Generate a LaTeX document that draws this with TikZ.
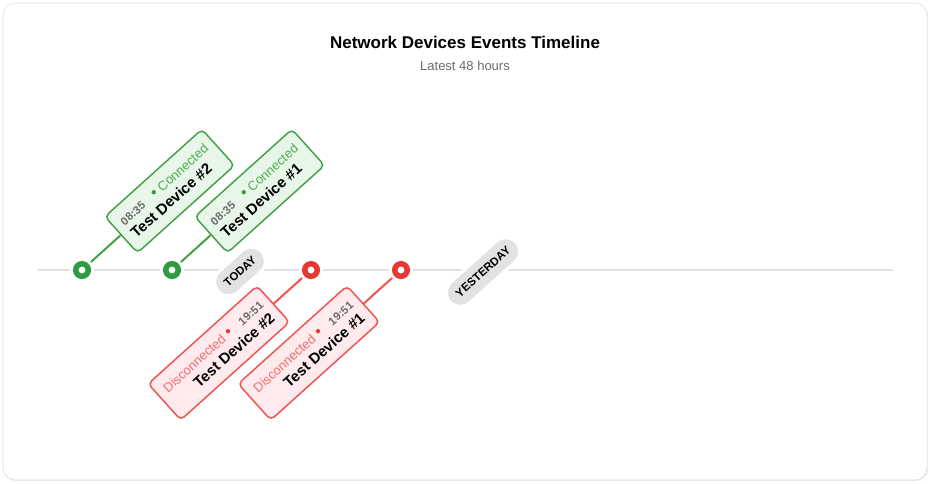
\documentclass[tikz,border=0pt]{standalone}
\usepackage{fontspec}
\setmainfont{Liberation Sans}
\usepackage{tikz}
\usetikzlibrary{positioning}
\definecolor{markgreen}{HTML}{2E9B41}
\definecolor{cardgreen}{HTML}{43A047}
\definecolor{fillgreen}{HTML}{E8F5E9}
\definecolor{textgreen}{HTML}{4CAF50}
\definecolor{markred}{HTML}{E53935}
\definecolor{cardred}{HTML}{EF5350}
\definecolor{fillred}{HTML}{FFEBEE}
\definecolor{textred}{HTML}{F26B6B}
\definecolor{axisgray}{HTML}{E0E0E0}
\definecolor{pillgray}{HTML}{E2E2E2}
\definecolor{timegray}{HTML}{6B6B6B}
\definecolor{framegray}{HTML}{DCDCDC}
\tikzset{
  axis/.style={draw=axisgray, line width=1.5pt},
  evtdot/.style={circle, fill=white, draw=#1, line width=4.125pt, minimum size=9.375pt, inner sep=0pt, outer sep=4.3125pt,
    preaction={draw=white, line width=8.625pt}},
  card/.style={rectangle, rounded corners=3.5pt, line width=1.1pt, inner xsep=6.4pt, inner ysep=2pt, minimum height=36.5pt, rotate=42},
  gcard/.style={card, draw=cardgreen, fill=fillgreen, align=left},
  rcard/.style={card, draw=cardred, fill=fillred, align=right},
  day/.style={rectangle, rounded corners=10.5pt, fill=pillgray, draw=white, line width=2.25pt, minimum height=21pt, inner xsep=7.5pt, rotate=42, font=\bfseries\fontsize{8.6}{10}\selectfont},
  stem/.style={line width=1.5pt}
}
\newcommand\evtime[1]{{\bfseries\fontsize{8.5}{10}\selectfont\color{timegray}#1}}
\newcommand\evname[1]{{\bfseries\fontsize{11.25}{13.5}\selectfont #1}}
\newcommand\evdot[1]{{\fontsize{12}{10}\selectfont\color{#1}•}}

\begin{document}
\begin{tikzpicture}[x=0.75pt, y=0.75pt]

  \newcommand\Tilt{42}
  \newcommand\Ty{213}

  \useasboundingbox (0,0) rectangle (930,483);
  \fill[black!7, rounded corners=9pt] (4,2) rectangle (928,479);
  \draw[draw=framegray, fill=white, rounded corners=9pt] (3,3) rectangle (927,480);

  \node[font=\bfseries\fontsize{12.75}{15}\selectfont] (title) at (465,441) {Network Devices Events Timeline};
  \node[font=\fontsize{9.75}{12}\selectfont, text=timegray] (sub) at (465,417) {Latest 48 hours};

  \coordinate (tl-l) at (38,\Ty);
  \coordinate (tl-r) at (893,\Ty);
  \draw[axis] (tl-l) -- (tl-r);

  % events on the line
  \node[evtdot=markgreen] (g2) at (82,\Ty) {};
  \node[evtdot=markgreen] (g1) at (172,\Ty) {};
  \node[evtdot=markred] (r2) at (311,\Ty) {};
  \node[evtdot=markred] (r1) at (401,\Ty) {};
  \node[day] (today) at (240,211.5) {TODAY};
  \node[day] (yest) at (483,211) {YESTERDAY};

  % connected
  \node[gcard, anchor=west] (c2) at ([shift={(\Tilt:52)}]g2.center)
    {\evtime{08:35}\hspace{9pt}{\fontsize{9.75}{11}\selectfont\evdot{markgreen}\hspace{3pt}\color{textgreen}Connected}\\[1pt]\evname{Test Device \#2}};
  \node[gcard, anchor=west] (c1) at ([shift={(\Tilt:52)}]g1.center)
    {\evtime{08:35}\hspace{9pt}{\fontsize{9.75}{11}\selectfont\evdot{markgreen}\hspace{3pt}\color{textgreen}Connected}\\[1pt]\evname{Test Device \#1}};
  \draw[stem, cardgreen] (g2) -- (c2.west);
  \draw[stem, cardgreen] (g1) -- (c1.west);

  % disconnected
  \node[rcard, anchor=east] (d2) at ([shift={(\Tilt+180:50)}]r2.center)
    {{\fontsize{9.75}{11}\selectfont\color{textred}Disconnected\hspace{3pt}\evdot{markred}}\hspace{9pt}\evtime{19:51}\\[1pt]\evname{Test Device \#2}};
  \node[rcard, anchor=east] (d1) at ([shift={(\Tilt+180:50)}]r1.center)
    {{\fontsize{9.75}{11}\selectfont\color{textred}Disconnected\hspace{3pt}\evdot{markred}}\hspace{9pt}\evtime{19:51}\\[1pt]\evname{Test Device \#1}};
  \draw[stem, cardred] (r2) -- (d2.east);
  \draw[stem, cardred] (r1) -- (d1.east);

\end{tikzpicture}
\end{document}
